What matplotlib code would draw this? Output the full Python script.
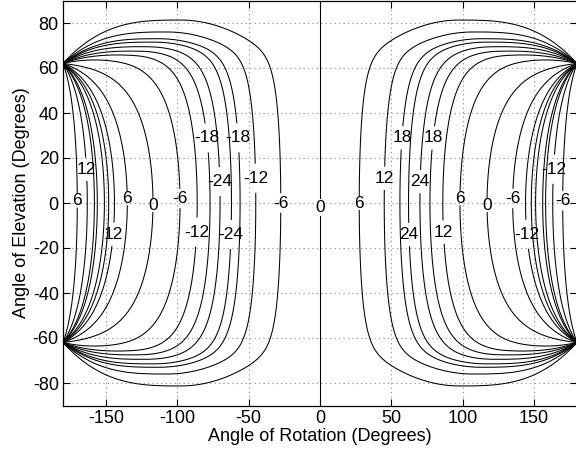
import numpy as np
import matplotlib
matplotlib.use("Agg")
import matplotlib.pyplot as plt

plt.rcParams['font.family'] = ['Liberation Sans', 'DejaVu Sans']
plt.rcParams['axes.unicode_minus'] = False

# ---- data (right half; the left half is antisymmetric) ----
levels = [-24, -18, -12, -6, 0, 6, 12, 18, 24]
# where each contour crosses elevation 0 (deg of rotation) and its value
cross_x = [0, 27.5, 45, 56, 62, 66, 70, 77, 86, 98, 117, 135, 144, 148, 151, 153.5, 156, 158, 163, 170, 180]
cross_v = [0, 6, 12, 18, 24, 27, 24, 18, 12, 6, 0, -6, -12, -18, -24, -27, -24, -18, -12, -6, 0]
# highest elevation reached by the contour that crosses zero at a given rotation
peak_x0 = [0, 27.5, 45, 56, 62, 70, 77, 86, 98, 117, 180]
peak_h = [90, 81.3, 76, 73, 71.5, 69.5, 67.6, 66, 64.3, 62, 62]
# how quickly each contour bends away from vertical (fraction of its width)
rise_x0 = [0, 27.5, 45, 63, 86, 98, 117, 135, 150, 180]
rise_w = [0.02, 0.027, 0.035, 0.055, 0.11, 0.18, 0.32, 0.5, 0.7, 1.0]
# singular point where all contours meet
node_x, node_y = 180.0, 62.0
peak_u = 0.46

xticks = [-150, -100, -50, 0, 50, 100, 150]
yticks = [-80, -60, -40, -20, 0, 20, 40, 60, 80]

labels_right = [(27, 0), (45, 11), (57, 29), (70, 9.5), (78, 29), (61, -14), (84, -13),
                (98, 2), (117, -1), (133, 2), (163, 15), (170, 1), (143, -14)]

# ---- build curvilinear grid of contour paths ----
x0 = np.linspace(0.2, 179.8, 900)[:, None]
t = np.linspace(0, 1, 300)
u = (t ** 3)[None, :]
H = np.interp(x0, peak_x0, peak_h)
W = np.interp(x0, rise_x0, rise_w)
xx = x0 + u * (node_x - x0)
B = np.where(u < peak_u, 1 - ((peak_u - u) / peak_u) ** 2,
             1 - ((u - peak_u) / (1 - peak_u)) ** 3)
T = node_y + (H - node_y) * B
R = np.sqrt((1 - np.exp(-u / W)) / (1 - np.exp(-1 / W)))
yy = T * R
XS = np.concatenate([xx[:, ::-1], xx[:, 1:]], axis=1)
YS = np.concatenate([-yy[:, ::-1], yy[:, 1:]], axis=1)
ZS = np.interp(x0, cross_x, cross_v) * np.ones_like(XS)

fig = plt.figure(figsize=(5.76, 4.54), dpi=100)
ax = fig.add_axes([63 / 576, 1 - 405.5 / 454, 514 / 576, 405 / 454])
ax.set_xlim(-180, 180)
ax.set_ylim(-90, 90)

ax.set_xticks(xticks)
ax.set_yticks(yticks)
ax.grid(True, color='0.55', linestyle=(0, (1, 3)), linewidth=0.8)
ax.set_axisbelow(True)
ax.tick_params(direction='in', top=True, right=True, length=5, width=0.8,
               labelsize=13, pad=3)
for s in ax.spines.values():
    s.set_linewidth(0.9)

lw = 0.75
cs_r = ax.contour(XS, YS, ZS, levels=levels, colors='k', linewidths=lw,
                  linestyles='solid')
cs_l = ax.contour(-XS, YS, -ZS, levels=levels, colors='k', linewidths=lw,
                  linestyles='solid')
ax.axvline(cross_x[0], color='k', lw=lw)

txt_r = ax.clabel(cs_r, manual=labels_right, inline=True, fmt='%d', fontsize=12.5, inline_spacing=2)
txt_l = ax.clabel(cs_l, manual=[(-a, b) for a, b in labels_right], inline=True, fmt='%d',
                  fontsize=12.5, inline_spacing=2)
for tx in list(txt_r) + list(txt_l):
    tx.set_rotation(0)
ax.text(cross_x[0], -2, '0', fontsize=12.5, ha='center', va='center',
        bbox=dict(facecolor='white', edgecolor='none', pad=0.5))

ax.set_xlabel('Angle of Rotation (Degrees)', fontsize=13, labelpad=1)
ax.set_ylabel('Angle of Elevation (Degrees)', fontsize=13, labelpad=2)

fig.savefig('out.png', dpi=100)
